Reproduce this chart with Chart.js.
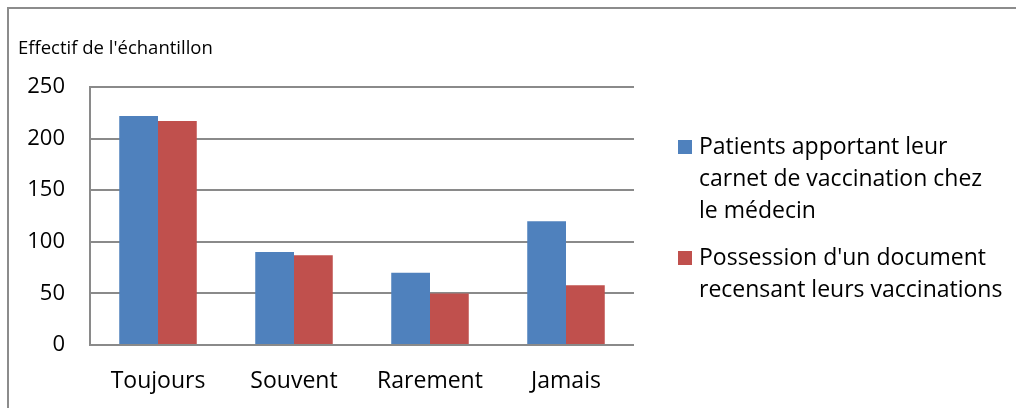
<!DOCTYPE html>
<html>
<head>
<meta charset="utf-8">
<script src="https://cdn.jsdelivr.net/npm/chart.js@4"></script>
<style>
  body { margin: 0; background: #fff; }
  canvas { display: block; }
</style>
</head>
<body>
<canvas id="myChart" width="1016" height="408"></canvas>
<script>
// data
let categories = ["Toujours", "Souvent", "Rarement", "Jamais"]
let carnetValues = [222, 90, 70, 120]
let documentValues = [217, 87, 50, 58]
let yTicks = [0, 50, 100, 150, 200, 250]
let yTitle = "Effectif de l'échantillon"
let carnetLabel = ["Patients apportant leur", "carnet de vaccination chez", "le médecin"]
let documentLabel = ["Possession d'un document", "recensant leurs vaccinations"]

const blue = '#4F81BD'
const red = '#C0504D'
const gridGrey = '#8a8a8a'
const fontName = '"Open Sans", Lato, sans-serif'

// frame, axis caption and wrapped legend drawn on the canvas
const decorations = {
  id: 'decorations',
  afterDraw(chart) {
    const ctx = chart.ctx
    ctx.save()
    // outer frame (only top and left visible in the picture)
    ctx.strokeStyle = '#8c8c8c'
    ctx.lineWidth = 2
    ctx.beginPath()
    ctx.moveTo(8, 408)
    ctx.lineTo(8, 8)
    ctx.lineTo(1016, 8)
    ctx.stroke()

    // y caption on top
    ctx.fillStyle = '#000'
    ctx.font = '18.5px ' + fontName
    ctx.textBaseline = 'middle'
    ctx.textAlign = 'left'
    ctx.fillText(yTitle, 18, 49)

    // legend
    ctx.font = '23px ' + fontName
    let y = 147
    chart.data.datasets.forEach((ds, i) => {
      ctx.fillStyle = ds.backgroundColor
      ctx.fillRect(678, y - 7, 14, 14)
      ctx.fillStyle = '#000'
      ds.lines.forEach((line, j) => {
        ctx.fillText(line, 699, y + j * 32)
      })
      y += (ds.lines.length - 1) * 32 + 47
    })
    ctx.restore()
  }
}

var myChart = document.getElementById("myChart").getContext('2d');

var popChart = new Chart(myChart, {
  type: 'bar',
  data: {
    labels: categories,
    datasets: [{
      label: carnetLabel.join(' '),
      lines: carnetLabel,
      data: carnetValues,
      backgroundColor: blue,
      categoryPercentage: 0.57,
      barPercentage: 1
    }, {
      label: documentLabel.join(' '),
      lines: documentLabel,
      data: documentValues,
      backgroundColor: red,
      categoryPercentage: 0.57,
      barPercentage: 1
    }]
  },
  options: {
    responsive: false,
    animation: false,
    devicePixelRatio: 1,
    layout: {
      padding: { top: 87, right: 382, bottom: 0, left: 0 }
    },
    scales: {
      x: {
        grid: { display: false, drawTicks: false },
        border: { display: false },
        ticks: {
          padding: 23,
          color: '#000',
          font: { family: fontName, size: 23 }
        },
        afterFit(scale) { scale.height = 63 }
      },
      y: {
        min: 0,
        max: 250,
        afterBuildTicks(scale) {
          scale.ticks = yTicks.map(v => ({ value: v }))
        },
        grid: { color: gridGrey, lineWidth: 2, drawTicks: false },
        border: { display: true, color: gridGrey, width: 2 },
        ticks: {
          padding: 25,
          color: '#000',
          font: { family: fontName, size: 22 }
        },
        afterFit(scale) { scale.width = 90 }
      }
    },
    plugins: {
      legend: { display: false },
      title: { display: false },
      tooltip: { enabled: false }
    }
  },
  plugins: [decorations]
})
</script>
</body>
</html>
